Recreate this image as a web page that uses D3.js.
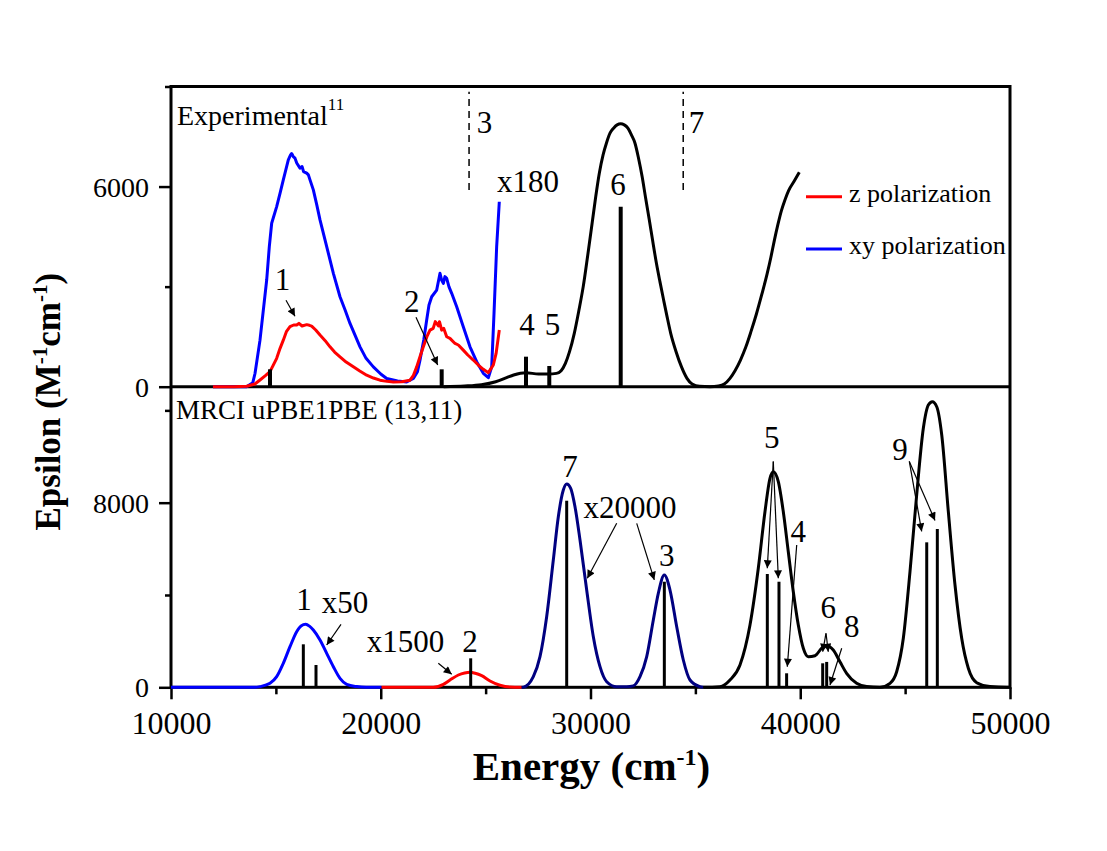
<!DOCTYPE html>
<html><head><meta charset="utf-8">
<script src="https://cdn.jsdelivr.net/npm/d3@7"></script>
<style>
body{margin:0;background:#fff}
svg{display:block}
svg text{font-family:"Liberation Serif","Times New Roman",serif !important;fill:#000}
</style>
</head><body>
<svg id="c" width="1107" height="851" font-family="Liberation Serif"></svg>
<script>
// ---------------- DATA ----------------
// Experimental spectrum (top panel): [energy cm-1, epsilon]
const expXy = [[12000,0],[13600,0],[13900,120],[14005,396],[14243,1396],[14562,3198],[14687,4198],[14800,4900],[15038,5399],[15200,5800],[15354,6201],[15593,6802],[15700,6950],[15752,6990],[15830,6900],[15911,6852],[16000,6700],[16150,6552],[16250,6600],[16320,6450],[16468,6402],[16550,6350],[16627,6201],[16786,5901],[16950,5450],[17104,5000],[17423,4198],[17741,3399],[18057,2697],[18300,2300],[18534,1898],[19011,1195],[19300,850],[19647,595],[20000,380],[20283,246],[20800,170],[21237,144],[21555,246],[21750,450],[21871,796],[22050,1400],[22190,1997],[22300,2450],[22429,2697],[22667,2898],[22825,3399],[22900,3200],[22985,3099],[23060,3300],[23144,3249],[23250,3000],[23382,2799],[23621,2396],[23935,1796],[24255,1195],[24573,749],[24890,401],[25129,270],[25290,600],[25400,2200],[25526,4197],[25652,5545]];
const expZ = [[12000,0],[13000,0],[13609,15],[14000,80],[14243,200],[14500,330],[14720,450],[15038,850],[15200,1150],[15354,1396],[15500,1650],[15673,1798],[15850,1850],[15991,1848],[16100,1900],[16250,1820],[16468,1860],[16600,1840],[16706,1818],[16900,1700],[17104,1548],[17350,1380],[17581,1195],[17800,1040],[18057,897],[18350,740],[18693,595],[19000,470],[19329,345],[19650,260],[19964,195],[20300,160],[20600,144],[21000,150],[21395,195],[21550,330],[21714,595],[21870,900],[22030,1195],[22200,1500],[22348,1697],[22500,1750],[22600,1950],[22667,1898],[22750,1820],[22800,1950],[22905,1697],[23000,1750],[23144,1497],[23300,1450],[23540,1296],[23700,1250],[23935,1096],[24150,950],[24413,800],[24650,650],[24890,521],[25129,420],[25367,650],[25500,1000],[25652,1700]];
const expBlack = [[23000,0],[24000,20],[24800,60],[25480,150],[26000,270],[26334,350],[26925,420],[27525,380],[28000,380],[28374,400],[28600,480],[28803,700],[29000,1050],[29227,1600],[29450,2300],[29653,3000],[29870,3950],[30077,4900],[30250,5700],[30420,6400],[30600,6950],[30758,7300],[30930,7600],[31100,7750],[31270,7850],[31440,7880],[31610,7850],[31783,7750],[31950,7550],[32122,7300],[32290,6850],[32461,6300],[32630,5650],[32804,5000],[32970,4350],[33143,3700],[33310,3150],[33486,2600],[33650,2100],[33824,1600],[34080,1050],[34334,600],[34600,250],[34845,80],[35200,10],[35698,0],[36100,20],[36380,80],[36650,250],[36890,480],[37150,800],[37400,1180],[37650,1650],[37910,2180],[38160,2750],[38420,3380],[38600,3880],[38763,4380],[38930,4850],[39102,5280],[39270,5600],[39445,5880],[39700,6150],[39955,6430]];
const expSticks = [[14720,521],[22905,521],[26925,900],[28035,620],[31440,5396]];
const expDashed = [[24210,5896,8843],[34420,5896,8843]]; // energy, from, to

// Calculated spectrum (bottom panel)
const calcBlue = [[10000,0],[14000,0],[14243,30],[14720,173],[15038,460],[15354,1040],[15673,1760],[15991,2410],[16200,2660],[16422,2730],[16600,2650],[16786,2483],[17104,2050],[17423,1473],[17741,893],[18057,390],[18377,130],[18854,30],[19300,0],[20040,0]];
const calcRed = [[20040,0],[22505,0],[22985,130],[23302,316],[23700,533],[24000,620],[24255,650],[24500,610],[24812,503],[25209,273],[25685,87],[26160,10],[26720,0]];
const calcNavy = [[26720,0],[26797,5],[27274,460],[27592,1326],[27910,3059],[28227,5515],[28466,7392],[28704,8548],[28865,8808],[29056,8622],[29261,7825],[29500,6382],[29818,4216],[30135,2193],[30453,893],[30771,243],[31248,25],[31724,25],[32041,60],[32360,460],[32680,1326],[32995,2916],[33233,4073],[33520,4866],[33790,4216],[34110,2625],[34425,1183],[34744,316],[35220,25],[35380,0]];
const calcBlack = [[35380,0],[35800,0],[36174,20],[36650,316],[37127,966],[37604,2700],[38000,5156],[38318,7608],[38557,9056],[38716,9342],[38954,8909],[39192,7608],[39430,5875],[39669,4142],[39907,2700],[40146,1690],[40384,1326],[40703,1369],[41021,1690],[41260,1802],[41574,1616],[41892,1109],[42210,607],[42687,173],[43166,30],[43800,0],[44279,173],[44597,676],[44914,2123],[45232,5008],[45550,8332],[45868,11222],[46106,12231],[46298,12374],[46507,12157],[46746,10931],[47060,7608],[47378,4432],[47697,2123],[48013,823],[48414,200],[49046,30],[49840,0],[50000,0]];
const calcSticks = [[16309,1863],[16913,966],[24288,1256],[28865,8085],[33520,4575],[38430,4909],[38986,4575],[39350,607],[41070,1040],[41260,1100],[46030,6282],[46535,6859]];

// Tick values
const xMajor = [10000,20000,30000,40000,50000];
const xMinor = [15000,25000,35000,45000];
const yTopMajor = [0,6000];
const yTopMinor = [3000,9000];
const yBotMajor = [0,8000];
const yBotMinor = [4000,12000];

// Annotation labels in data coordinates [text, energy, epsilon]
const topLabels = [["3",24946,7596],["7",35058,7596],["x180",27016,5845],["6",31311,5746],["4",26973,1550],["5",28188,1550],["1",15316,2899],["2",21476,2248]];
const topArrows = [[15483,2590,15912,2110],[21680,2080,22715,650]];
const botLabels = [["1",16341,3349],["x50",18296,3206],["x1500",21180,1542],["2",24255,1542],["7",29023,9125],["x20000",31883,7322],["3",33633,5256],["5",38639,10369],["4",39907,6308],["6",41337,2990],["8",42453,2192],["9",44756,9848]];
const botArrows = [[18105,2730,17423,1833],[22744,1040,23383,563],[31249,7106,29847,4723],[32203,7106,33042,4653],[38715,9788,38429,5156],[38715,9788,38954,4723],[39831,6165,39383,893],[41227,2340,41070,1542],[41227,2340,41336,1542],[41976,1690,41418,100],[45199,9788,45790,6755],[45199,9788,46425,7227]];

const legendItems = [["z polarization","#ff0000"],["xy polarization","#0000ff"]];

// ---------------- CHART ----------------
const FONT = '"Liberation Serif", "Times New Roman", serif';
const svg = d3.select("#c");
const x = d3.scaleLinear().domain([10000,50000]).range([171,1010]);
const yTop = d3.scaleLinear().domain([0,9000]).range([386.7,86.5]);
const yBot = d3.scaleLinear().domain([0,13000]).range([687.3,387.3]);

const defs = svg.append("defs");
defs.append("marker").attr("id","arr").attr("viewBox","0 0 10 10")
  .attr("refX",10).attr("refY",5).attr("markerWidth",12).attr("markerHeight",8)
  .attr("markerUnits","userSpaceOnUse").attr("orient","auto")
  .append("path").attr("d","M0,0 L10,5 L0,10 Z").attr("fill","#000");

// frame
const L = x.range()[0], R = x.range()[1];
svg.append("rect").attr("x",L).attr("y",yTop(9000)).attr("width",R-L).attr("height",yBot(0)-yTop(9000))
  .attr("fill","none").attr("stroke","#000").attr("stroke-width",3);
svg.append("line").attr("x1",L).attr("x2",R).attr("y1",yTop(0)).attr("y2",yTop(0))
  .attr("stroke","#000").attr("stroke-width",3);

// axes
function styleAxis(g){
  g.attr("font-family", FONT);
  g.select(".domain").remove();
  g.selectAll("line").attr("stroke","#000").attr("stroke-width",2.5);
  g.selectAll("text").style("font-family", FONT);
}
const gx = svg.append("g").attr("transform",`translate(0,${yBot(0)})`)
  .call(d3.axisBottom(x).tickValues(xMajor).tickSize(12).tickFormat(d3.format("d")));
styleAxis(gx);
gx.selectAll("text").attr("y",47).attr("dy",null).style("font-size","32px");
const gxm = svg.append("g").attr("transform",`translate(0,${yBot(0)})`)
  .call(d3.axisBottom(x).tickValues(xMinor).tickSize(7).tickFormat(""));
styleAxis(gxm);

function yAxis(scale, major, minor){
  const g = svg.append("g").attr("transform",`translate(${L},0)`)
    .call(d3.axisLeft(scale).tickValues(major).tickSize(12).tickFormat(d3.format("d")));
  styleAxis(g);
  g.selectAll("text").attr("x",-22).attr("dy","0.34em").style("font-size","28px");
  const gm = svg.append("g").attr("transform",`translate(${L},0)`)
    .call(d3.axisLeft(scale).tickValues(minor).tickSize(6).tickFormat(""));
  styleAxis(gm);
}
yAxis(yTop, yTopMajor, yTopMinor);
yAxis(yBot, yBotMajor, yBotMinor);

// curves
function drawLine(data, yS, color, curve, w){
  svg.append("path").datum(data)
    .attr("d", d3.line().x(d=>x(d[0])).y(d=>yS(d[1])).curve(curve))
    .attr("fill","none").attr("stroke",color).attr("stroke-width",w)
    .attr("stroke-linejoin","round");
}
drawLine(expBlack, yTop, "#000", d3.curveMonotoneX, 3);
drawLine(expXy, yTop, "#0000ff", d3.curveLinear, 3);
drawLine(expZ, yTop, "#ff0000", d3.curveLinear, 3);

drawLine(calcBlue, yBot, "#0000ff", d3.curveMonotoneX, 3);
drawLine(calcRed, yBot, "#ff0000", d3.curveMonotoneX, 3);
drawLine(calcNavy, yBot, "#000080", d3.curveMonotoneX, 3);
drawLine(calcBlack, yBot, "#000", d3.curveMonotoneX, 3);

// sticks
svg.append("g").selectAll("line").data(expSticks).join("line")
  .attr("x1",d=>x(d[0])).attr("x2",d=>x(d[0])).attr("y1",yTop(0)).attr("y2",d=>yTop(d[1]))
  .attr("stroke","#000").attr("stroke-width",4);
svg.append("g").selectAll("line").data(calcSticks).join("line")
  .attr("x1",d=>x(d[0])).attr("x2",d=>x(d[0])).attr("y1",yBot(0)).attr("y2",d=>yBot(d[1]))
  .attr("stroke","#000").attr("stroke-width",3);

// dashed lines
svg.append("g").selectAll("line").data(expDashed).join("line")
  .attr("x1",d=>x(d[0])).attr("x2",d=>x(d[0])).attr("y1",d=>yTop(d[1])).attr("y2",d=>yTop(d[2]))
  .attr("stroke","#000").attr("stroke-width",1.5).attr("stroke-dasharray","7,5");

// labels
function labels(data, yS){
  svg.append("g").selectAll("text").data(data).join("text")
    .attr("x",d=>x(d[1])).attr("y",d=>yS(d[2])).attr("text-anchor","middle")
    .style("font-family",FONT).style("font-size","31px").text(d=>d[0]);
}
labels(topLabels, yTop);
labels(botLabels, yBot);
function arrows(data, yS){
  svg.append("g").selectAll("line").data(data).join("line")
    .attr("x1",d=>x(d[0])).attr("y1",d=>yS(d[1])).attr("x2",d=>x(d[2])).attr("y2",d=>yS(d[3]))
    .attr("stroke","#000").attr("stroke-width",1.2).attr("marker-end","url(#arr)");
}
arrows(topArrows, yTop);
arrows(botArrows, yBot);

// panel titles
const t1 = svg.append("text").attr("x",L+6).attr("y",124.5).style("font-family",FONT).style("font-size","28px");
t1.append("tspan").text("Experimental");
t1.append("tspan").attr("dy",-15).style("font-size","17px").text("11");
svg.append("text").attr("x",L+5).attr("y",419).style("font-family",FONT).style("font-size","27px").text("MRCI uPBE1PBE (13,11)");

// legend
const lg = svg.append("g").attr("transform","translate(806,196.7)");
legendItems.forEach((d,i)=>{
  lg.append("line").attr("x1",0).attr("x2",36).attr("y1",i*52.3).attr("y2",i*52.3)
    .attr("stroke",d[1]).attr("stroke-width",3);
  lg.append("text").attr("x",43).attr("y",i*52.3+5).style("font-family",FONT).style("font-size","26px").text(d[0]);
});

// axis titles
const xt = svg.append("text").attr("x",591.5).attr("y",780).attr("text-anchor","middle")
  .style("font-family",FONT).style("font-size","41px").style("font-weight","bold");
xt.append("tspan").text("Energy (cm");
xt.append("tspan").attr("dy",-15).style("font-size","24px").text("-1");
xt.append("tspan").attr("dy",15).text(")");

const yt = svg.append("text").attr("transform","translate(60,401.7) rotate(-90)").attr("text-anchor","middle")
  .style("font-family",FONT).style("font-size","35px").style("font-weight","bold");
yt.append("tspan").text("Epsilon (M");
yt.append("tspan").attr("dy",-13).style("font-size","21px").text("-1");
yt.append("tspan").attr("dy",13).text("cm");
yt.append("tspan").attr("dy",-13).style("font-size","21px").text("-1");
yt.append("tspan").attr("dy",13).text(")");
</script>
</body></html>
